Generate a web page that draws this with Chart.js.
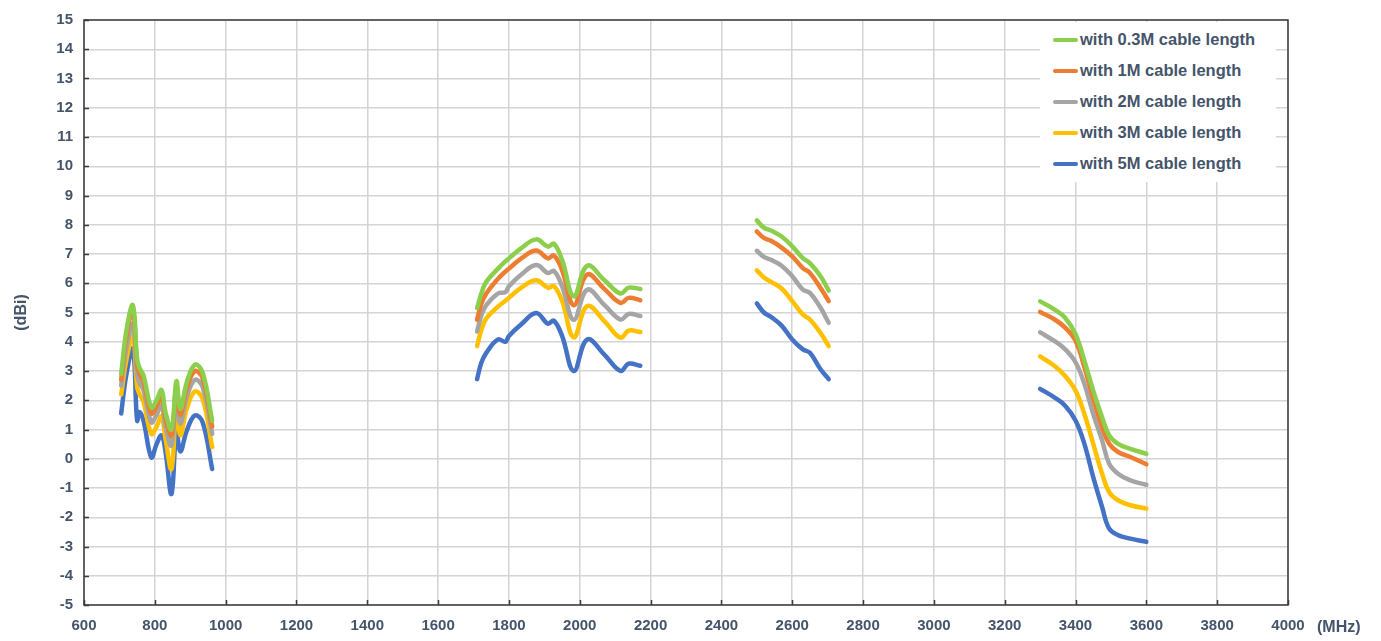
<!DOCTYPE html>
<html>
<head>
<meta charset="utf-8">
<script src="https://cdn.jsdelivr.net/npm/chart.js@4/dist/chart.umd.min.js"></script>
<style>
  html, body { margin: 0; padding: 0; background: #fff; }
  #wrap { position: relative; width: 1381px; height: 641px; }
  #legend {
    position: absolute; left: 1040px; top: 22px; width: 236px; height: 160px;
    background: #fff; padding-top: 2px; box-sizing: border-box;
    font: bold 16.5px 'Liberation Sans', Arial, sans-serif; color: #44546a;
  }
  #legend .row { height: 31px; display: flex; align-items: center; padding-left: 13px; white-space: nowrap; }
  #legend .sw { width: 25px; height: 4px; border-radius: 2px; margin-right: 2px; }
</style>
</head>
<body>
<div id="wrap">
  <canvas id="c" width="1381" height="641"></canvas>
  <div id="legend"></div>
</div>
<script>
// 케이블 길이별 안테나 이득 (dBi) — 대역별 측정값

// 주파수 (MHz), 대역별
const FREQ_LOW  = [705, 720, 738, 750, 757, 768, 790, 805, 819, 830, 847, 861, 872, 890, 913, 935, 962];
const FREQ_MID  = [1710, 1722, 1736, 1769, 1790, 1800, 1835, 1877, 1910, 1927, 1950, 1983, 2021, 2070, 2115, 2138, 2171];
const FREQ_HIGH = [2500, 2520, 2540, 2570, 2600, 2630, 2650, 2680, 2703];
const FREQ_CB   = [3300, 3340, 3370, 3400, 3425, 3450, 3475, 3495, 3520, 3555, 3600];
const BANDS = [FREQ_LOW, FREQ_MID, FREQ_HIGH, FREQ_CB];

// 이득 값: 대역 순서대로 (LOW, MID, HIGH, CB)
const GAIN_03M = [
  2.9, 4.4, 5.25, 3.4, 3.1, 2.85, 1.75, 2.0, 2.35, 1.6, 1.0, 2.65, 1.7, 2.6, 3.22, 2.95, 1.3,
  5.15, 5.65, 6.05, 6.5, 6.75, 6.85, 7.2, 7.5, 7.25, 7.35, 6.8, 5.55, 6.6, 6.1, 5.65, 5.85, 5.8,
  8.15, 7.9, 7.8, 7.6, 7.26, 6.86, 6.69, 6.24, 5.75,
  5.38, 5.11, 4.83, 4.26, 3.35, 2.33, 1.42, 0.8, 0.51, 0.34, 0.17,
];
const GAIN_1M = [
  2.7, 4.2, 5.05, 3.2, 2.9, 2.65, 1.55, 1.8, 2.15, 1.4, 0.8, 2.45, 1.5, 2.4, 3.0, 2.75, 1.1,
  4.75, 5.3, 5.65, 6.15, 6.4, 6.5, 6.85, 7.12, 6.85, 6.95, 6.45, 5.25, 6.3, 5.8, 5.33, 5.5, 5.42,
  7.77, 7.55, 7.45, 7.22, 6.92, 6.52, 6.35, 5.84, 5.39,
  5.02, 4.77, 4.49, 4.03, 3.13, 2.05, 1.08, 0.51, 0.23, 0.06, -0.19,
];
const GAIN_2M = [
  2.5, 3.8, 4.6, 2.85, 2.6, 2.35, 1.25, 1.5, 1.85, 1.1, 0.45, 2.15, 1.2, 2.1, 2.7, 2.45, 0.85,
  4.35, 4.9, 5.25, 5.65, 5.7, 5.9, 6.3, 6.62, 6.35, 6.42, 5.9, 4.75, 5.78, 5.25, 4.76, 4.95, 4.88,
  7.11, 6.9, 6.8, 6.6, 6.24, 5.78, 5.67, 5.16, 4.65,
  4.32, 4.03, 3.75, 3.3, 2.56, 1.53, 0.63, -0.17, -0.51, -0.74, -0.89,
];
const GAIN_3M = [
  2.2, 3.4, 4.2, 2.45, 2.2, 1.95, 0.85, 1.1, 1.45, 0.7, -0.35, 1.8, 0.8, 1.7, 2.3, 2.05, 0.4,
  3.85, 4.4, 4.8, 5.2, 5.4, 5.5, 5.85, 6.1, 5.85, 5.9, 5.4, 4.15, 5.22, 4.7, 4.14, 4.38, 4.33,
  6.44, 6.2, 6.05, 5.82, 5.39, 4.93, 4.76, 4.3, 3.85,
  3.5, 3.18, 2.84, 2.33, 1.53, 0.51, -0.51, -1.14, -1.42, -1.59, -1.7,
];
const GAIN_5M = [
  1.55, 2.9, 3.75, 1.3, 1.6, 1.3, 0.05, 0.5, 0.8, 0.25, -1.2, 0.95, 0.25, 0.95, 1.48, 1.25, -0.35,
  2.72, 3.28, 3.62, 4.08, 4.0, 4.2, 4.6, 4.98, 4.62, 4.72, 4.2, 3.0, 4.08, 3.55, 3.0, 3.25, 3.18,
  5.31, 5.0, 4.85, 4.55, 4.08, 3.74, 3.62, 3.06, 2.72,
  2.39, 2.1, 1.82, 1.31, 0.51, -0.63, -1.65, -2.39, -2.61, -2.73, -2.84,
];

const SERIES_NAMES  = ['with 0.3M cable length', 'with 1M cable length', 'with 2M cable length', 'with 3M cable length', 'with 5M cable length'];
const SERIES_VALUES = [GAIN_03M, GAIN_1M, GAIN_2M, GAIN_3M, GAIN_5M];
const SERIES_COLORS = ['#8ccf4d', '#ed7d31', '#a5a5a5', '#ffc000', '#4472c4'];

const X_TICKS = { min: 600, max: 4000, step: 200 };
const Y_TICKS = { min: -5, max: 15, step: 1 };

const TEXT = '#44546a';
const FONT = "'Liberation Sans', Arial, sans-serif";

// 대역 사이는 null 점으로 끊음
function toPoints(values) {
  const pts = [];
  let k = 0;
  BANDS.forEach((band, bi) => {
    band.forEach(f => pts.push({ x: f, y: values[k++] }));
    if (bi < BANDS.length - 1) pts.push({ x: band[band.length - 1] + 1, y: null });
  });
  return pts;
}

// 플롯 테두리 + 안쪽 눈금 + (MHz) 라벨
const framePlugin = {
  id: 'frame',
  afterDatasetsDraw(chart) {
    const { ctx, chartArea: a, scales } = chart;
    ctx.save();
    ctx.strokeStyle = '#3a3a3a';
    ctx.lineWidth = 1.5;
    ctx.strokeRect(a.left, a.top, a.right - a.left, a.bottom - a.top);
    ctx.beginPath();
    scales.x.ticks.forEach(t => {
      const px = Math.round(scales.x.getPixelForValue(t.value)) + 0.5;
      ctx.moveTo(px, a.bottom); ctx.lineTo(px, a.bottom - 5);
    });
    scales.y.ticks.forEach(t => {
      const py = Math.round(scales.y.getPixelForValue(t.value)) + 0.5;
      ctx.moveTo(a.left, py); ctx.lineTo(a.left + 5, py);
    });
    ctx.stroke();
    ctx.fillStyle = TEXT;
    ctx.font = 'bold 16px ' + FONT;
    ctx.textBaseline = 'middle';
    ctx.textAlign = 'left';
    ctx.fillText('(MHz)', a.right + 29, a.bottom + 23);
    ctx.restore();
  }
};

const datasets = SERIES_VALUES.map((vals, i) => ({
  label: SERIES_NAMES[i],
  data: toPoints(vals),
  borderColor: SERIES_COLORS[i],
  backgroundColor: SERIES_COLORS[i],
  borderWidth: 4.5,
  pointRadius: 0,
  tension: 0.4,
  spanGaps: false,
  borderCapStyle: 'round',
  borderJoinStyle: 'round',
  order: i,
}));

new Chart(document.getElementById('c'), {
  type: 'line',
  data: { datasets },
  plugins: [framePlugin],
  options: {
    responsive: false,
    animation: false,
    layout: { padding: { top: 19, right: 93, bottom: 0, left: 0 } },
    plugins: { legend: { display: false }, tooltip: { enabled: false } },
    scales: {
      x: {
        type: 'linear',
        min: X_TICKS.min, max: X_TICKS.max,
        afterFit(s) { s.height = 36; },
        afterBuildTicks(s) {
          s.ticks = [];
          for (let v = X_TICKS.min; v <= X_TICKS.max; v += X_TICKS.step) s.ticks.push({ value: v });
        },
        ticks: {
          color: TEXT, font: { family: FONT, size: 15, weight: 'bold' }, padding: 12,
          maxRotation: 0, autoSkip: false, callback: v => String(v),
        },
        grid: { color: '#d4d4d4', lineWidth: 1.5, drawTicks: false },
        border: { display: false },
      },
      y: {
        min: Y_TICKS.min, max: Y_TICKS.max,
        afterFit(s) { s.width = 84; },
        ticks: { stepSize: Y_TICKS.step, color: TEXT, font: { family: FONT, size: 15, weight: 'bold' }, padding: 11 },
        grid: { color: '#d4d4d4', lineWidth: 1.5, drawTicks: false },
        border: { display: false },
        title: { display: true, text: '(dBi)', color: TEXT, font: { family: FONT, size: 16, weight: 'bold' }, padding: { top: 12, bottom: 0 } },
      },
    },
  },
});

// HTML 범례
document.getElementById('legend').innerHTML = SERIES_NAMES.map((n, i) =>
  `<div class="row"><span class="sw" style="background:${SERIES_COLORS[i]}"></span>${n}</div>`
).join('');
</script>
</body>
</html>
